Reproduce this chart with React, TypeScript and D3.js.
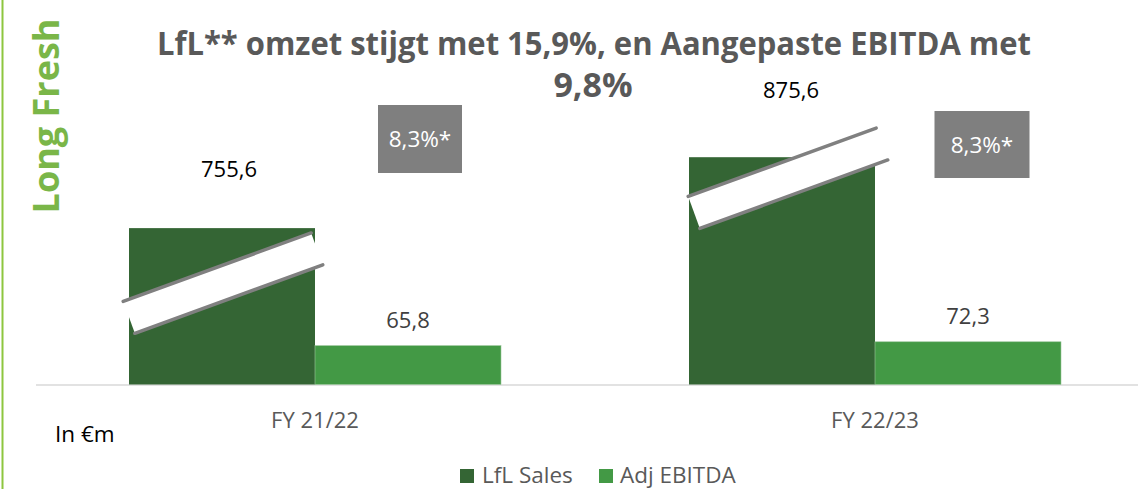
import React from "react";
import * as d3 from "d3";

const categories = ["FY 21/22", "FY 22/23"];
const seriesNames = ["LfL Sales", "Adj EBITDA"];
const lflSales = [755.6, 875.6];
const adjEbitda = [65.8, 72.3];
const marginLabels = ["8,3%*", "8,3%*"];
const salesBreakValue = 491; // value cut out by the axis break on the sales bars
const titleLine1 = "LfL** omzet stijgt met 15,9%, en Aangepaste EBITDA met";
const titleLine2 = "9,8%";
const sideLabel = "Long Fresh";
const unitLabel = "In €m";

const fmt = (v: number) => v.toFixed(1).replace(".", ",");

const W = 1138;
const H = 489;
const FONT = "'Open Sans', 'DejaVu Sans', sans-serif";
const DARK = "#346534";
const LIGHT = "#439945";
const GREY_TXT = "#595959";

// layout tweaks for the hand-placed annotations
const salesLabelOffset = [{ dx: 7, dy: 51 }, { dx: 9, dy: 59 }];
const breakOffset = [{ dx: 1, dy: 55 }, { dx: 6, dy: 21 }];
const boxLayout = [
  { dx: 12, w: 84, top: 105, h: 68 },
  { dx: 14, w: 95, top: 111, h: 67 },
];

export default function App() {
  const baseY = 384.5;
  const y = d3.scaleLinear().domain([0, 600]).range([baseY, baseY - 354.6]);
  const pi = 188 / 560;
  const x0 = d3
    .scaleBand<string>()
    .domain(categories)
    .range([35, 1155])
    .paddingInner(pi)
    .paddingOuter(pi / 2);
  const x1 = d3
    .scaleBand<string>()
    .domain(seriesNames)
    .range([0, x0.bandwidth()]);

  const breakLen = 200;
  const breakGap = 34;
  const breakAngle = -20;

  return (
    <svg width={W} height={H} style={{ position: "absolute", left: 0, top: 0 }} fontFamily={FONT}>
      <rect x={0} y={0} width={W} height={H} fill="#ffffff" />
      {/* left accent line */}
      <line x1={2.5} x2={2.5} y1={0} y2={H} stroke="#8dc63f" strokeWidth={2} />
      {/* side label */}
      <text
        transform={`translate(59,116) rotate(-90)`}
        textAnchor="middle"
        fontSize={36}
        fontWeight={700}
        fill="#7ab648"
      >
        {sideLabel}
      </text>
      {/* title */}
      <text
        x={594}
        y={55}
        textAnchor="middle"
        fontSize={32}
        fontWeight={700}
        fill={GREY_TXT}
        textLength={874}
        lengthAdjust="spacingAndGlyphs"
      >
        {titleLine1}
      </text>
      <text x={593} y={97} textAnchor="middle" fontSize={34} fontWeight={700} fill={GREY_TXT}>
        {titleLine2}
      </text>

      {/* axis baseline */}
      <line x1={36} x2={W} y1={baseY + 0.5} y2={baseY + 0.5} stroke="#d9d9d9" strokeWidth={1.5} />

      {categories.map((c, i) => {
        const gx = x0(c)!;
        const sx = gx + x1(seriesNames[0])!;
        const ex = gx + x1(seriesNames[1])!;
        const bw = x1.bandwidth();
        const sTop = y(lflSales[i] - salesBreakValue);
        const eTop = y(adjEbitda[i]);
        const bcx = sx + bw / 2 + breakOffset[i].dx;
        const bcy = sTop + breakOffset[i].dy;
        const box = boxLayout[i];
        const boxCx = ex + bw / 2 + box.dx;
        return (
          <g key={c}>
            <rect x={sx} y={sTop} width={bw} height={baseY - sTop} fill={DARK} />
            <rect
              x={ex}
              y={eTop}
              width={bw}
              height={baseY - eTop}
              fill={LIGHT}
              stroke="#9cc79c"
              strokeWidth={0.6}
            />
            {/* axis break mark */}
            <g transform={`translate(${bcx},${bcy}) rotate(${breakAngle})`}>
              <rect x={-breakLen / 2} y={-breakGap / 2} width={breakLen} height={breakGap} fill="#ffffff" />
              <line
                x1={-breakLen / 2}
                x2={breakLen / 2}
                y1={-breakGap / 2}
                y2={-breakGap / 2}
                stroke="#808080"
                strokeWidth={3.5}
                strokeLinecap="round"
              />
              <line
                x1={-breakLen / 2}
                x2={breakLen / 2}
                y1={breakGap / 2}
                y2={breakGap / 2}
                stroke="#808080"
                strokeWidth={3.5}
                strokeLinecap="round"
              />
            </g>
            {/* value labels */}
            <text
              x={sx + bw / 2 + salesLabelOffset[i].dx}
              y={sTop - salesLabelOffset[i].dy}
              textAnchor="middle"
              fontSize={22}
              fill="#000000"
            >
              {fmt(lflSales[i])}
            </text>
            <text x={ex + bw / 2} y={eTop - 18} textAnchor="middle" fontSize={22} fill="#404040">
              {fmt(adjEbitda[i])}
            </text>
            {/* margin box */}
            <rect x={boxCx - box.w / 2} y={box.top} width={box.w} height={box.h} fill="#7f7f7f" />
            <text
              x={boxCx}
              y={box.top + box.h / 2 + 8}
              textAnchor="middle"
              fontSize={22.5}
              fill="#ffffff"
            >
              {marginLabels[i]}
            </text>
            {/* category label */}
            <text x={gx + x0.bandwidth() / 2} y={428} textAnchor="middle" fontSize={22} fill={GREY_TXT}>
              {c}
            </text>
          </g>
        );
      })}

      <text x={55} y={442} fontSize={22.5} fill="#000000">
        {unitLabel}
      </text>

      {/* legend */}
      <rect x={460} y={469} width={14} height={14} fill={DARK} />
      <text x={482} y={483} fontSize={22.5} fill={GREY_TXT}>
        {seriesNames[0]}
      </text>
      <rect x={599} y={469} width={14} height={14} fill={LIGHT} />
      <text x={620} y={483} fontSize={22.5} fill={GREY_TXT}>
        {seriesNames[1]}
      </text>
    </svg>
  );
}
